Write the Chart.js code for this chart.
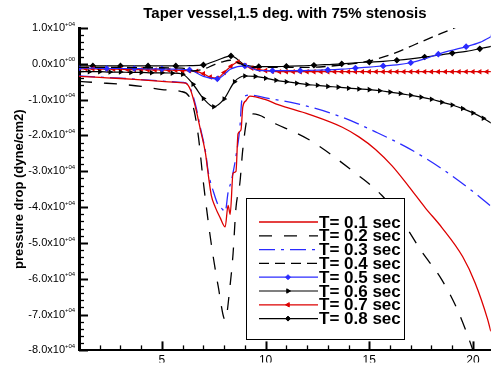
<!DOCTYPE html>
<html>
<head>
<meta charset="utf-8">
<title>Taper vessel pressure drop</title>
<script src="https://cdn.jsdelivr.net/npm/chart.js@4.4.1/dist/chart.umd.min.js"></script>
<style>
  html, body { margin: 0; padding: 0; background: #fff; overflow: hidden; }
  #wrap { width: 496px; height: 371px; }
</style>
</head>
<body>
<div id="wrap"><canvas id="chart" width="496" height="371"></canvas></div>
<script>
/* pressure drop along a tapered vessel, one curve per time step */

const seriesLabels = ["T= 0.1 sec", "T= 0.2 sec", "T= 0.3 sec", "T= 0.4 sec",
  "T= 0.5 sec", "T= 0.6 sec", "T= 0.7 sec", "T= 0.8 sec"];

const xTicks = [5, 10, 15, 20];
const yTicks = [10000, 0, -10000, -20000, -30000, -40000, -50000, -60000, -70000, -80000];

// T = 0.1
const xT1 = [1, 2, 3, 4, 5, 6, 6.14, 6.38, 6.62, 6.86, 7.1, 7.24, 7.38, 7.57, 7.81, 8.05,
  8.19, 8.29, 8.43, 8.57, 8.67, 8.81, 8.9, 9.05, 9.24,
  10, 10.6, 12.1, 13.7, 14.5, 15.3, 16.1, 16.9, 17.7, 18.5, 19.5, 20.1, 20.7, 20.86];
const yT1 = [-3500, -3800, -4100, -4500, -4900, -5300, -5400, -7300, -12200, -18500, -25000, -31200, -36700, -40000, -43000, -45500,
  -39500, -42000, -30500, -30000, -19500, -18500, -12000, -10300, -9000,
  -10000, -11400, -14100, -17700, -20400, -23900, -28500, -34200, -40200, -45700, -53800, -61100, -71200, -74700];

// T = 0.2
const xT2 = [1, 2, 3, 4, 5, 5.9, 6.3, 6.55, 6.76, 7.0,
  7.38, 7.71, 8.05, 8.29, 8.43, 8.57, 8.76, 8.9, 9.14, 9.4,
  10.5, 12.1, 14.3, 15.6, 16.6, 17.5, 18.5, 19.3, 20.0, 20.5];
const yT2 = [-4900, -5300, -5700, -6300, -7200, -7700, -9000, -13000, -20400, -33200,
  -50300, -62000, -71500, -61700, -53000, -40200, -33200, -23900, -14900, -14000,
  -16800, -21200, -30400, -36700, -44000, -52200, -60300, -69300, -80000, -89000];

// T = 0.3
const xT3 = [1, 2, 3, 4, 5, 6, 6.14, 6.38, 6.62, 6.86, 7.1, 7.24, 7.5, 7.71, 7.9, 8.05,
  8.19, 8.33, 8.43, 8.57, 8.76, 8.85, 9.0, 9.2,
  10, 11.5, 13.7, 15.3, 16.9, 18.5, 20.1, 20.86];
const yT3 = [-3400, -3700, -4000, -4400, -4800, -5200, -5300, -7000, -11500, -18000, -24500, -30400, -36000, -39400, -40500, -41300,
  -35900, -33000, -30400, -25800, -17700, -10300, -9000, -8700,
  -9500, -11100, -14900, -19000, -23600, -29300, -36100, -39700];

// T = 0.4
const xT4 = [1, 2, 3, 4, 5, 6, 6.5, 7, 7.5, 8, 8.3, 8.6, 9, 9.5, 10, 11, 12,
  13, 13.7, 15, 16.1, 17.2, 18.1, 19.1, 20, 20.9];
const yT4 = [-1000, -1000, -1000, -1100, -1100, -1200, -2000, -1500, -300, 700, 1000, 500, -500, -1000, -1000, -1000, -1000,
  -700, -300, 800, 2700, 5400, 7600, 10000, 12500, 15000];

// T = 0.5 (marker on every other point)
const xT5 = [1, 1.67, 2.33, 3, 3.67, 4.33, 5, 5.67, 6.33, 7, 7.67, 8.33, 9, 9.67, 10.33, 11,
  11.67, 12.33, 13, 13.67, 14.33, 15, 15.67, 16.33, 17, 17.67, 18.33, 19, 19.67, 20.33, 21];
const yT5 = [-1200, -1200, -1300, -1300, -1300, -1400, -1400, -1500, -1700, -3500, -4200, -1400, -600, -1900, -1900, -1900,
  -1900, -1800, -1700, -1500, -1200, -900, -600, -300, 300, 1400, 2700, 3800, 4800, 6000, 8000];

// T = 0.6
const xT6 = [1, 1.5, 2, 2.5, 3, 3.5, 4, 4.5, 5, 5.5, 6, 6.5, 7, 7.5, 8, 8.5, 9, 9.5, 10, 10.5,
  11, 11.5, 12, 12.5, 13, 13.5, 14, 14.5, 15, 15.5, 16, 16.5, 17, 17.5, 18, 18.5, 19, 19.5, 20, 20.5, 21];
const yT6 = [-2200, -2200, -2200, -2300, -2300, -2400, -2400, -2500, -2500, -2600, -2900, -5700, -9700, -12000, -9800, -5000, -3400, -3500, -4000, -4600,
  -5000, -5400, -5800, -6000, -6300, -6500, -6800, -7000, -7200, -7500, -7900, -8300, -8800, -9300, -9900, -10700, -11500, -12500, -13700, -15200, -17000];

// T = 0.7
const xT7 = [1, 1.33, 1.67, 2, 2.33, 2.67, 3, 3.33, 3.67, 4, 4.33, 4.67, 5, 5.33, 5.67, 6,
  6.33, 6.67, 7, 7.33, 7.67, 8, 8.33, 8.67, 9, 9.33, 9.67, 10, 10.33,
  10.67, 11, 11.33, 11.67, 12, 12.33, 12.67, 13, 13.33, 13.67, 14, 14.33, 14.67, 15, 15.33, 15.67,
  16, 16.33, 16.67, 17, 17.33, 17.67, 18, 18.33, 18.67, 19, 19.33, 19.67, 20, 20.33, 20.67, 21];
const yT7 = [-1400, -1400, -1400, -1500, -1500, -1500, -1500, -1600, -1600, -1600, -1700, -1700, -1700, -1800, -1800, -1900,
  -1900, -2100, -2800, -3700, -4000, -2400, -700, 500, -500, -1200, -1600, -1900, -2100,
  -2200, -2200, -2200, -2200, -2200, -2200, -2200, -2200, -2200, -2200, -2200, -2200, -2200, -2200, -2200, -2200,
  -2200, -2200, -2200, -2200, -2200, -2200, -2200, -2200, -2200, -2200, -2200, -2200, -2200, -2200, -2200, -2200];

// T = 0.8 (marker on every other point)
const xT8 = [1, 1.67, 2.33, 3, 3.67, 4.33, 5, 5.67, 6.33, 7, 7.67, 8.33, 9, 9.67, 10.33, 11,
  11.67, 12.33, 13, 13.67, 14.33, 15, 15.67, 16.33, 17, 17.67, 18.33, 19, 19.67, 20.33, 21];
const yT8 = [-600, -600, -600, -600, -600, -600, -600, -600, -500, -300, 1000, 2200, -300, -800, -800, -700,
  -600, -400, -200, 0, 300, 500, 700, 1000, 1400, 1900, 2400, 3000, 3500, 4200, 5000];

const FONT = "'Liberation Sans', Arial, Helvetica, sans-serif";
const RED = "#dd0000";
const BLUE = "#2b2bff";

function toPoints(xs, ys) {
  return xs.map((x, i) => ({ x, y: ys[i] }));
}

// inner tick marks, exponent text and the boxed legend
const decor = {
  id: "decor",
  afterDatasetsDraw(chart) {
    const ctx = chart.ctx;
    const xs = chart.scales.x;
    const ys = chart.scales.y;
    const area = chart.chartArea;
    ctx.save();
    ctx.strokeStyle = "#000";

    for (let v = -80000; v <= 10000; v += 2000) {
      const major = v % 10000 === 0;
      const py = Math.round(ys.getPixelForValue(v)) + 0.5;
      ctx.lineWidth = major ? 2 : 1.3;
      ctx.beginPath();
      ctx.moveTo(area.left, py);
      ctx.lineTo(area.left + (major ? 9 : 5), py);
      ctx.stroke();
    }
    for (let v = 1; v <= 20; v++) {
      const major = v % 5 === 0;
      const px = Math.round(xs.getPixelForValue(v)) + 0.5;
      ctx.lineWidth = major ? 2 : 1.3;
      ctx.beginPath();
      ctx.moveTo(px, area.bottom);
      ctx.lineTo(px, area.bottom - (major ? 9 : 5));
      ctx.stroke();
    }

    // exponent of the y tick labels
    ctx.fillStyle = "#000";
    ctx.font = "6px " + FONT;
    ctx.textAlign = "left";
    ctx.textBaseline = "middle";
    yTicks.forEach((v) => {
      const py = ys.getPixelForValue(v);
      ctx.fillText(v === 0 ? "+00" : "+04", area.left - 14, py - 4);
    });

    // legend
    const bx = 246, by = 198, bw = 158, bh = 141;
    ctx.fillStyle = "#fff";
    ctx.fillRect(bx, by, bw, bh);
    ctx.lineWidth = 1;
    ctx.strokeStyle = "#000";
    ctx.strokeRect(bx + 0.5, by + 0.5, bw, bh);

    chart.data.datasets.forEach((ds, i) => {
      const y = 222 + i * 13.8;
      ctx.save();
      ctx.strokeStyle = ds.borderColor;
      ctx.lineWidth = ds.borderWidth;
      ctx.setLineDash(ds.borderDash || []);
      ctx.beginPath();
      ctx.moveTo(259, y);
      ctx.lineTo(318, y);
      ctx.stroke();
      ctx.setLineDash([]);
      if (ds.pointStyle) {
        ctx.fillStyle = ds.borderColor;
        ctx.strokeStyle = ds.borderColor;
        ctx.lineWidth = 1;
        Chart.helpers.drawPoint(ctx, {
          pointStyle: ds.pointStyle,
          radius: 2.5,
          rotation: ds.pointRotation || 0,
          borderWidth: 1,
        }, 288, y);
      }
      ctx.restore();
      ctx.fillStyle = "#000";
      ctx.font = "bold 17px " + FONT;
      ctx.textAlign = "left";
      ctx.textBaseline = "middle";
      ctx.fillText(ds.label, 319, y + 1);
    });
    ctx.restore();
  },
};

function buildChart(ctx) {
  const datasets = [
    { label: seriesLabels[0], data: toPoints(xT1, yT1), borderColor: RED, borderWidth: 1.3, pointRadius: 0 },
    { label: seriesLabels[1], data: toPoints(xT2, yT2), borderColor: "#000", borderWidth: 1.3, borderDash: [13, 12], pointRadius: 0 },
    { label: seriesLabels[2], data: toPoints(xT3, yT3), borderColor: BLUE, borderWidth: 1.3, borderDash: [16, 6, 3, 6], pointRadius: 0 },
    { label: seriesLabels[3], data: toPoints(xT4, yT4), borderColor: "#000", borderWidth: 1.3, borderDash: [10, 6], pointRadius: 0 },
    {
      label: seriesLabels[4], data: toPoints(xT5, yT5), borderColor: BLUE, borderWidth: 1.2,
      pointStyle: "rectRot", pointRadius: (c) => (c.index % 2 === 0 ? 2.5 : 0),
      pointBackgroundColor: BLUE, pointBorderColor: BLUE,
    },
    {
      label: seriesLabels[5], data: toPoints(xT6, yT6), borderColor: "#000", borderWidth: 1.2,
      pointStyle: "triangle", pointRotation: 90, pointRadius: 2,
      pointBackgroundColor: "#000", pointBorderColor: "#000",
    },
    {
      label: seriesLabels[6], data: toPoints(xT7, yT7), borderColor: RED, borderWidth: 1.2,
      pointStyle: "triangle", pointRotation: -90, pointRadius: 2,
      pointBackgroundColor: RED, pointBorderColor: RED,
    },
    {
      label: seriesLabels[7], data: toPoints(xT8, yT8), borderColor: "#000", borderWidth: 1.2,
      pointStyle: "rectRot", pointRadius: (c) => (c.index % 2 === 1 ? 2.5 : 0),
      pointBackgroundColor: "#000", pointBorderColor: "#000",
    },
  ];

  return new Chart(ctx, {
    type: "line",
    data: { datasets },
    options: {
      responsive: false,
      animation: false,
      events: [],
      layout: { padding: 0 },
      elements: {
        line: { tension: 0, cubicInterpolationMode: "monotone", fill: false },
        point: { borderWidth: 1 },
      },
      plugins: {
        legend: { display: false },
        tooltip: { enabled: false },
        title: {
          display: true,
          fullSize: false,
          text: "Taper vessel,1.5 deg. with 75% stenosis",
          color: "#000",
          font: { family: FONT, size: 15, weight: "bold" },
          padding: { top: 5, bottom: 5 },
        },
      },
      scales: {
        x: {
          type: "linear",
          min: 1,
          max: 20.86,
          afterBuildTicks: (s) => { s.ticks = xTicks.map((v) => ({ value: v })); },
          afterFit: (s) => { s.height = 12; },
          grid: { display: false, drawTicks: false },
          border: { display: true, color: "#000", width: 2 },
          ticks: { color: "#000", font: { family: FONT, size: 12 }, padding: 3, maxRotation: 0 },
        },
        y: {
          min: -80000,
          max: 10000,
          afterBuildTicks: (s) => { s.ticks = yTicks.map((v) => ({ value: v })); },
          afterFit: (s) => { s.width = 79; },
          grid: { display: false, drawTicks: false },
          border: { display: true, color: "#000", width: 3 },
          ticks: {
            color: "#000",
            font: { family: FONT, size: 11 },
            padding: 14,
            callback: (v) => (v / 10000).toFixed(1) + "x10",
          },
          title: {
            display: true,
            text: "pressure drop (dyne/cm2)",
            color: "#000",
            font: { family: FONT, size: 13, weight: "bold" },
            padding: { top: 12, bottom: 0 },
          },
        },
      },
    },
    plugins: [decor],
  });
}

document.addEventListener("DOMContentLoaded", () => {
  const ctx = document.getElementById("chart").getContext("2d");
  try {
    buildChart(ctx);
  } catch (err) {
    console.error("Error building chart", err);
  }
});
</script>
</body>
</html>
